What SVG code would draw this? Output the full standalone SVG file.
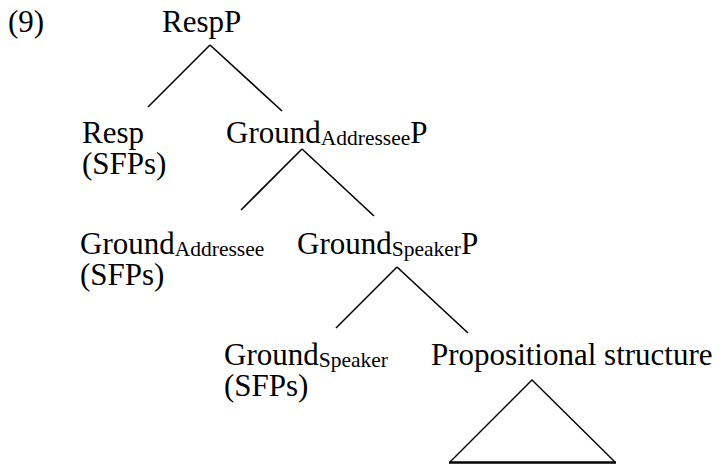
<svg xmlns="http://www.w3.org/2000/svg" width="722" height="464" viewBox="0 0 722 464">
  <style>
    .t { font-family: 'Liberation Serif', 'Times New Roman', Tinos, 'DejaVu Serif', 'Noto Serif', serif; font-size: 31px; fill: #000; }
    .sub { font-size: 21.5px; }
    .edge { stroke: #000; stroke-width: 1.6; fill: none; }
  </style>
  <rect width="722" height="464" fill="#fff"/>

  <text class="t" x="8" y="32">(9)</text>

  <g id="n-RespP" class="t">
    <text x="162" y="32">RespP</text>
  </g>
  <g id="n-Resp" class="t">
    <text x="82" y="143">Resp</text>
    <text x="82" y="174">(SFPs)</text>
  </g>
  <g id="n-GroundAddresseeP" class="t">
    <text x="226" y="143">Ground<tspan class="sub" dy="2">Addressee</tspan><tspan dy="-2">P</tspan></text>
  </g>
  <g id="n-GroundAddressee" class="t">
    <text x="80" y="254">Ground<tspan class="sub" dy="2">Addressee</tspan></text>
    <text x="80" y="285">(SFPs)</text>
  </g>
  <g id="n-GroundSpeakerP" class="t">
    <text x="297" y="254">Ground<tspan class="sub" dy="2">Speaker</tspan><tspan dy="-2">P</tspan></text>
  </g>
  <g id="n-GroundSpeaker" class="t">
    <text x="224" y="365">Ground<tspan class="sub" dy="2">Speaker</tspan></text>
    <text x="224" y="396">(SFPs)</text>
  </g>
  <g id="n-Propositional">
    <text class="t" x="431" y="365">Propositional structure</text>
    <path d="M450,462 L532,380 L615,462" fill="none" stroke="#000" stroke-width="1.4"/>
    <line x1="449" y1="462.5" x2="616" y2="462.5" stroke="#000" stroke-width="2.4"/>
  </g>

  <g id="connectors">
    <line class="edge" x1="210" y1="45" x2="148" y2="107"/>
    <line class="edge" x1="210" y1="45" x2="282" y2="111"/>
    <line class="edge" x1="302" y1="149" x2="241" y2="210"/>
    <line class="edge" x1="302" y1="149" x2="374" y2="216"/>
    <line class="edge" x1="397" y1="267" x2="336" y2="328"/>
    <line class="edge" x1="397" y1="267" x2="468" y2="333"/>
  </g>
</svg>
